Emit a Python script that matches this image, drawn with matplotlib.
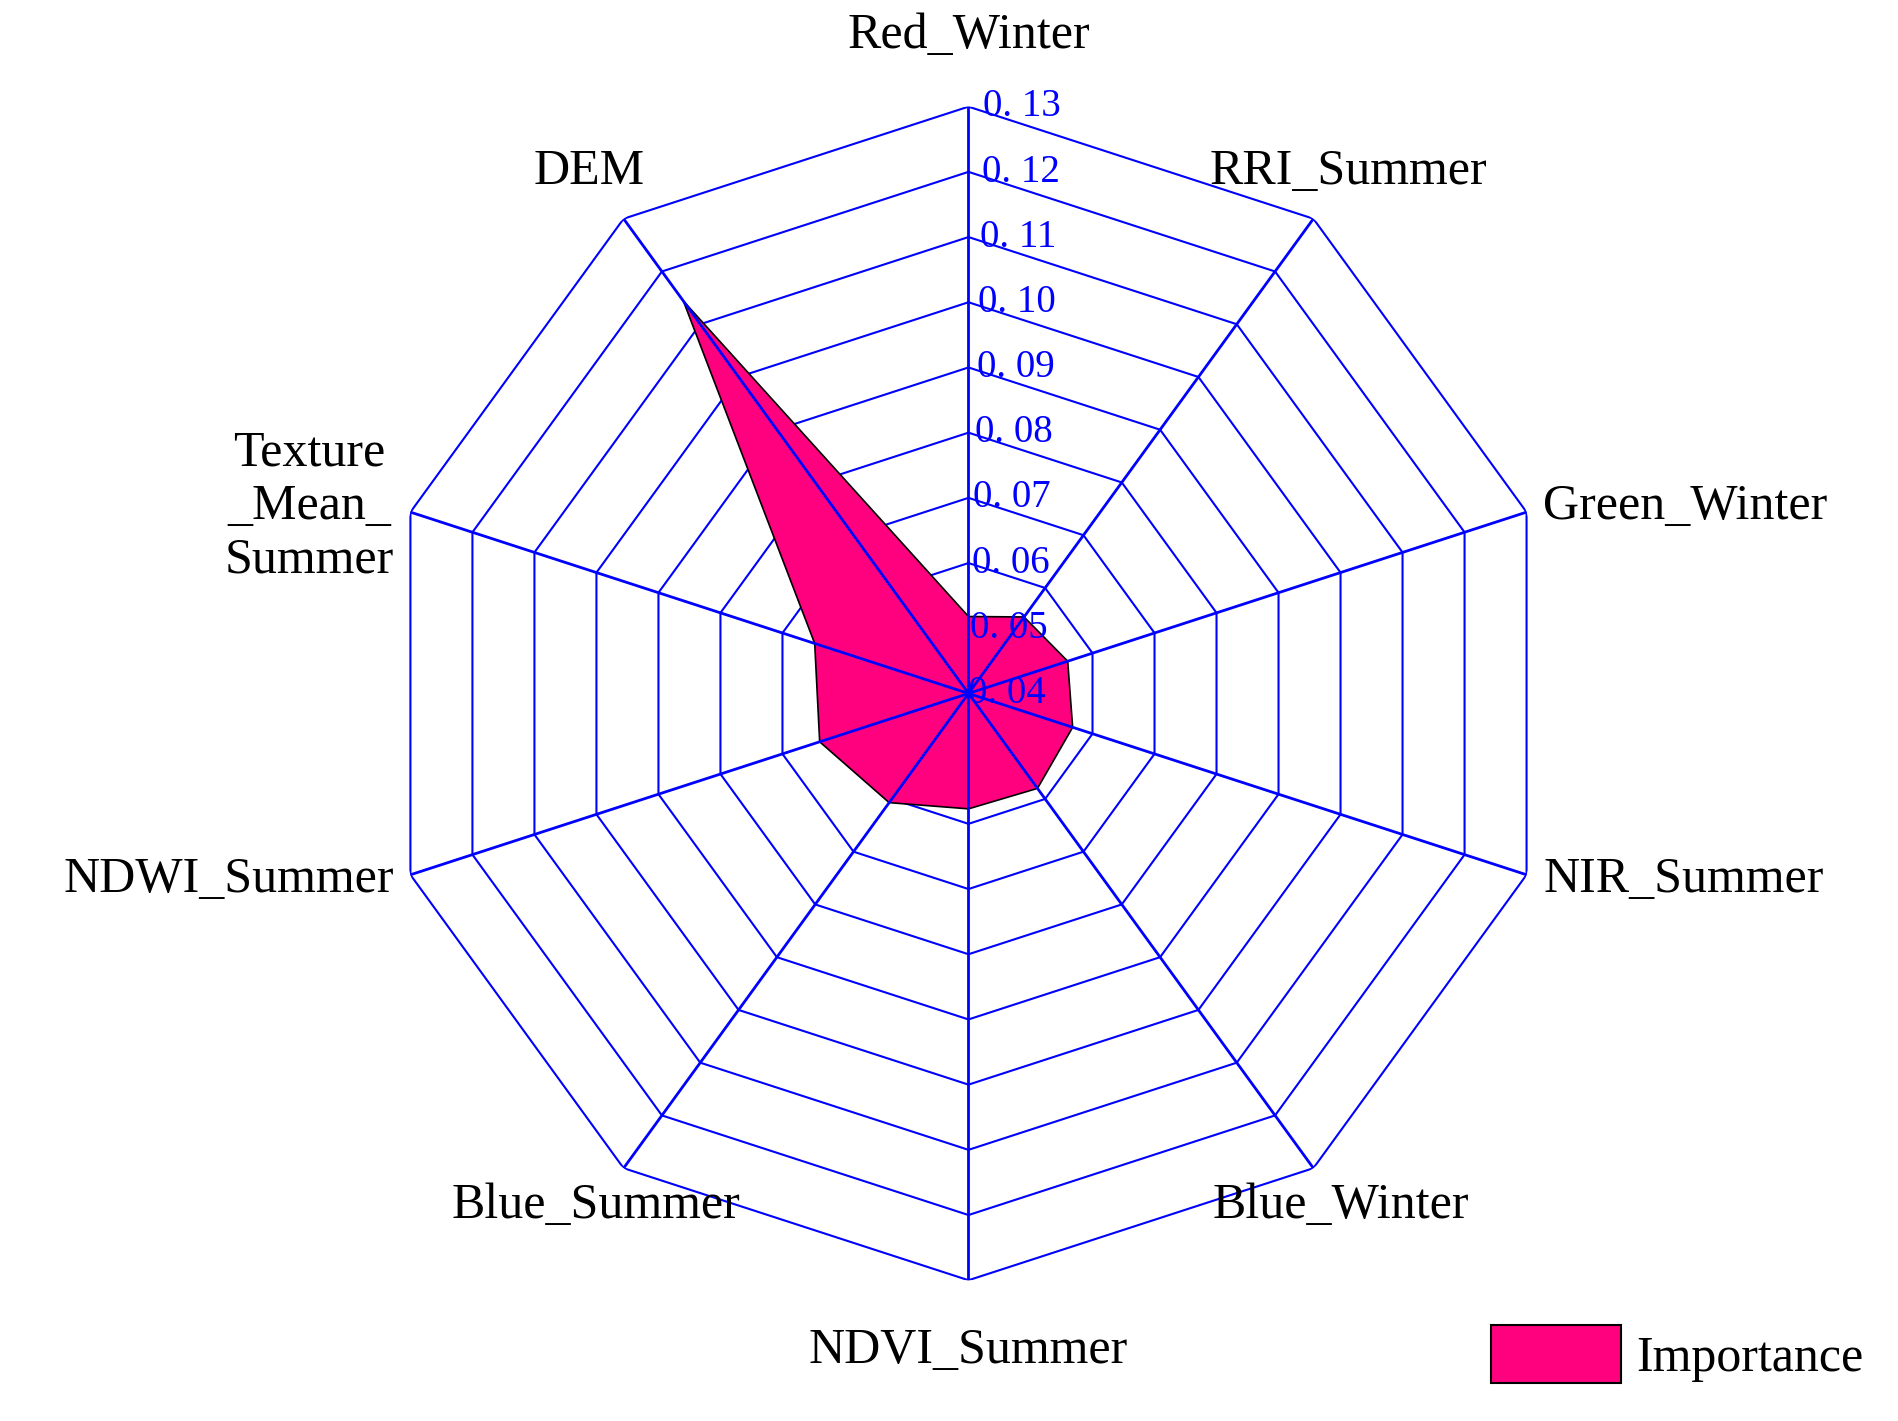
import numpy as np
import matplotlib.pyplot as plt
import matplotlib.patches as mpatches

categories = ["Red_Winter", "RRI_Summer", "Green_Winter", "NIR_Summer", "Blue_Winter",
              "NDVI_Summer", "Blue_Summer", "NDWI_Summer", "Texture\n_Mean_\nSummer", "DEM"]
importance = [0.0518, 0.0545, 0.0560, 0.0568, 0.0580, 0.0577, 0.0607, 0.0640, 0.0648, 0.1144]
levels = [0.04, 0.05, 0.06, 0.07, 0.08, 0.09, 0.10, 0.11, 0.12, 0.13]
level_labels = ["0. 04", "0. 05", "0. 06", "0. 07", "0. 08", "0. 09", "0. 10", "0. 11", "0. 12", "0. 13"]

plt.rcParams["font.family"] = ["Liberation Serif", "DejaVu Serif"]

fig = plt.figure(figsize=(18.99, 14.21), dpi=100)
ax = fig.add_axes([0.201, 0.099, 0.618, 0.826], projection="polar")
ax.set_theta_zero_location("N")
ax.set_theta_direction(-1)
rmin, rmax = levels[0], levels[-1]
ax.set_ylim(rmin, rmax)
ax.grid(False)
ax.spines["polar"].set_visible(False)
ax.set_xticks([])
ax.set_yticks([])

n = len(categories)
theta = np.linspace(0, 2 * np.pi, n, endpoint=False)
tc = np.append(theta, theta[0])

# polygon gridlines
for lv in levels[1:]:
    ax.plot(tc, [lv] * (n + 1), color="#0000ff", lw=1.5, zorder=1)
for t in theta:
    ax.plot([t, t], [rmin, rmax], color="#0000ff", lw=2, zorder=3)

vals = np.append(importance, importance[0])
ax.fill(tc, vals, facecolor="#ff007f", edgecolor="black", lw=1.2, zorder=2)

for lv, lab in zip(levels, level_labels):
    ax.text(0.025, lv, lab, color="#0000ff", fontsize=28, ha="left", va="center", zorder=4)

# label radius (fraction of plot radius) per spoke
label_frac = [1.12, 1.10, 1.03, 1.03, 1.08, 1.12, 1.08, 1.03, 1.03, 1.10]
for t, cat, f in zip(theta, categories, label_frac):
    s = np.sin(t)
    ha = "center" if abs(s) < 0.1 else ("left" if s > 0 else "right")
    if abs(np.cos(t)) > 0.75 and abs(s) > 0.1:
        ha = "center"
    ax.text(t, rmin + (rmax - rmin) * f, cat, fontsize=36, ha=ha, va="center",
            multialignment="center", clip_on=False)

handle = mpatches.Patch(facecolor="#ff007f", edgecolor="black", lw=1.5, label="Importance")
fig.legend(handles=[handle], loc="lower right", bbox_to_anchor=(1.005, -0.005), frameon=False,
           fontsize=36, handlelength=2.6, handleheight=1.4, handletextpad=0.3)

fig.savefig("out.png", dpi=100)
